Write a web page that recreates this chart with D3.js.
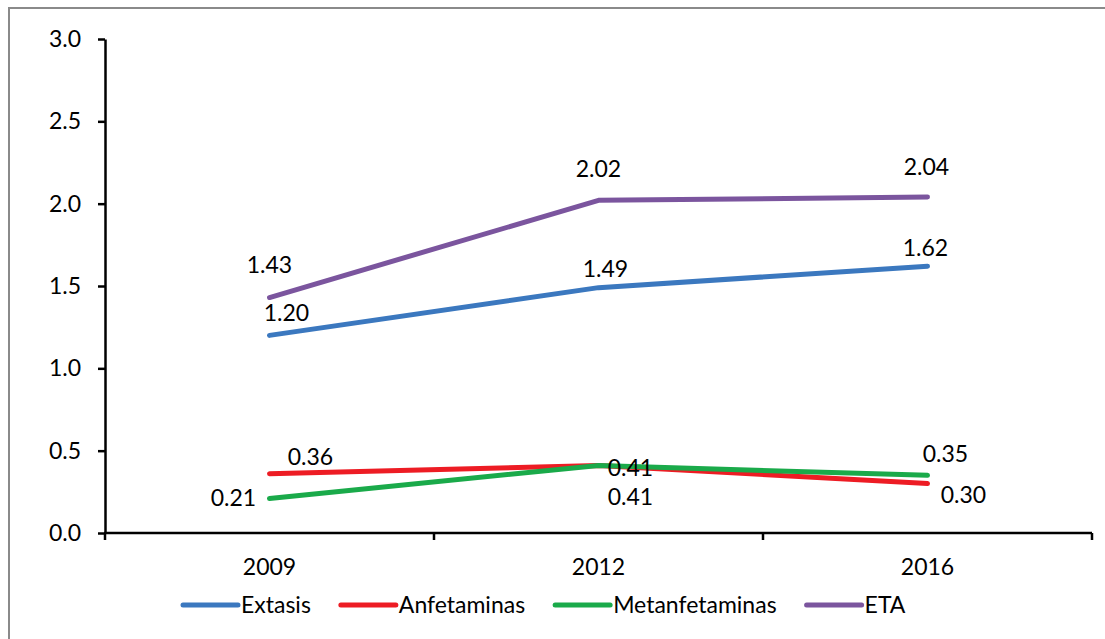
<!DOCTYPE html>
<html>
<head>
<meta charset="utf-8">
<script src="https://cdn.jsdelivr.net/npm/d3@7"></script>
<style>
  body { margin: 0; background: #fff; }
  text { font-family: Lato, "Open Sans", sans-serif; fill: #000; }
</style>
</head>
<body>
<div id="chart"></div>
<script>
// data
const years = ["2009", "2012", "2016"];
const yTicks = [0, 0.5, 1.0, 1.5, 2.0, 2.5, 3.0];
const extasis = [1.20, 1.49, 1.62];
const anfetaminas = [0.36, 0.41, 0.30];
const metanfetaminas = [0.21, 0.41, 0.35];
const eta = [1.43, 2.02, 2.04];

const seriesNames = ["Extasis", "Anfetaminas", "Metanfetaminas", "ETA"];
const seriesValues = [extasis, anfetaminas, metanfetaminas, eta];
const colors = ["#3b78bf", "#ed1c24", "#1aaa4a", "#7b559e"];

// label placement relative to each point (dx, dy of text baseline)
const labelOffsets = [
    [[17, -14], [7, -11], [-2, -10]],
    [[41, -9], [32, 40], [36, 19]],
    [[-36, 8], [32, 11], [18, -13]],
    [[0, -25], [0, -23], [-1, -22]]
];

const W = 1105, H = 639;
const plot = {left: 105, right: 1092, top: 39, bottom: 533};
const fontSize = 23;

var svg = d3.select("#chart")
    .append("svg")
    .attr("width", W)
    .attr("height", H);

svg.append("rect")
    .attr("width", W).attr("height", H)
    .attr("fill", "#fff");

// outer chart frame (only left and top edges are visible)
svg.append("rect")
    .attr("x", 9).attr("y", 8)
    .attr("width", 1300).attr("height", 800)
    .attr("fill", "none")
    .attr("stroke", "#8a8a8a")
    .attr("stroke-width", 2);

var x = d3.scaleBand()
    .domain(years)
    .range([plot.left, plot.right])
    .padding(0);

var y = d3.scaleLinear()
    .domain([0, 3])
    .range([plot.bottom, plot.top]);

const cx = d => x(d) + x.bandwidth() / 2;

// y axis
var yAxis = svg.append("g")
    .attr("transform", `translate(${plot.left},0)`)
    .call(d3.axisLeft(y).tickValues(yTicks).tickFormat(d3.format(".1f")).tickSize(7).tickSizeOuter(0).tickPadding(17));
yAxis.selectAll("path, line").attr("stroke", "#000").attr("stroke-width", 2.5);
yAxis.selectAll("text").style("font-size", fontSize + "px").attr("fill", "#000")
    .style("font-family", "Lato, sans-serif");

// x axis: line + tick marks between categories
var xAxis = svg.append("g");
xAxis.append("line")
    .attr("x1", plot.left - 1).attr("x2", plot.right)
    .attr("y1", y(0)).attr("y2", y(0))
    .attr("stroke", "#000").attr("stroke-width", 2.5);
const edges = years.map(d => x(d)).concat([x(years[years.length - 1]) + x.bandwidth()]);
xAxis.selectAll("line.tick")
    .data(edges)
    .enter()
    .append("line")
    .attr("class", "tick")
    .attr("x1", d => d).attr("x2", d => d)
    .attr("y1", y(0)).attr("y2", y(0) + 7)
    .attr("stroke", "#000").attr("stroke-width", 2.5);
xAxis.selectAll("text")
    .data(years)
    .enter()
    .append("text")
    .attr("x", d => cx(d))
    .attr("y", 575)
    .attr("text-anchor", "middle")
    .style("font-size", fontSize + "px")
    .text(d => d);

// lines
var line = d3.line()
    .x((d, i) => cx(years[i]))
    .y(d => y(d));

svg.selectAll("path.series")
    .data(seriesValues)
    .enter()
    .append("path")
    .attr("class", "series")
    .attr("d", d => line(d))
    .attr("fill", "none")
    .attr("stroke", (d, i) => colors[i])
    .attr("stroke-width", 5)
    .attr("stroke-linecap", "round")
    .attr("stroke-linejoin", "round");

// data labels
seriesValues.forEach((vals, s) => {
    svg.append("g")
        .selectAll("text")
        .data(vals)
        .enter()
        .append("text")
        .attr("x", (d, i) => cx(years[i]) + labelOffsets[s][i][0])
        .attr("y", (d, i) => y(d) + labelOffsets[s][i][1])
        .attr("text-anchor", "middle")
        .style("font-size", fontSize + "px")
        .text(d => d.toFixed(2));
});

// legend
var legend = svg.append("g").attr("class", "legend");
let lx = 183;
const legY = 605, lineLen = 55, itemGap = 30;
seriesNames.forEach((name, i) => {
    legend.append("line")
        .attr("x1", lx).attr("x2", lx + lineLen)
        .attr("y1", legY).attr("y2", legY)
        .attr("stroke", colors[i])
        .attr("stroke-width", 5)
        .attr("stroke-linecap", "round");
    var t = legend.append("text")
        .attr("x", lx + lineLen + 3)
        .attr("y", legY + 8)
        .style("font-size", fontSize + "px")
        .text(name);
    lx += lineLen + 3 + t.node().getComputedTextLength() + itemGap;
});
</script>
</body>
</html>
